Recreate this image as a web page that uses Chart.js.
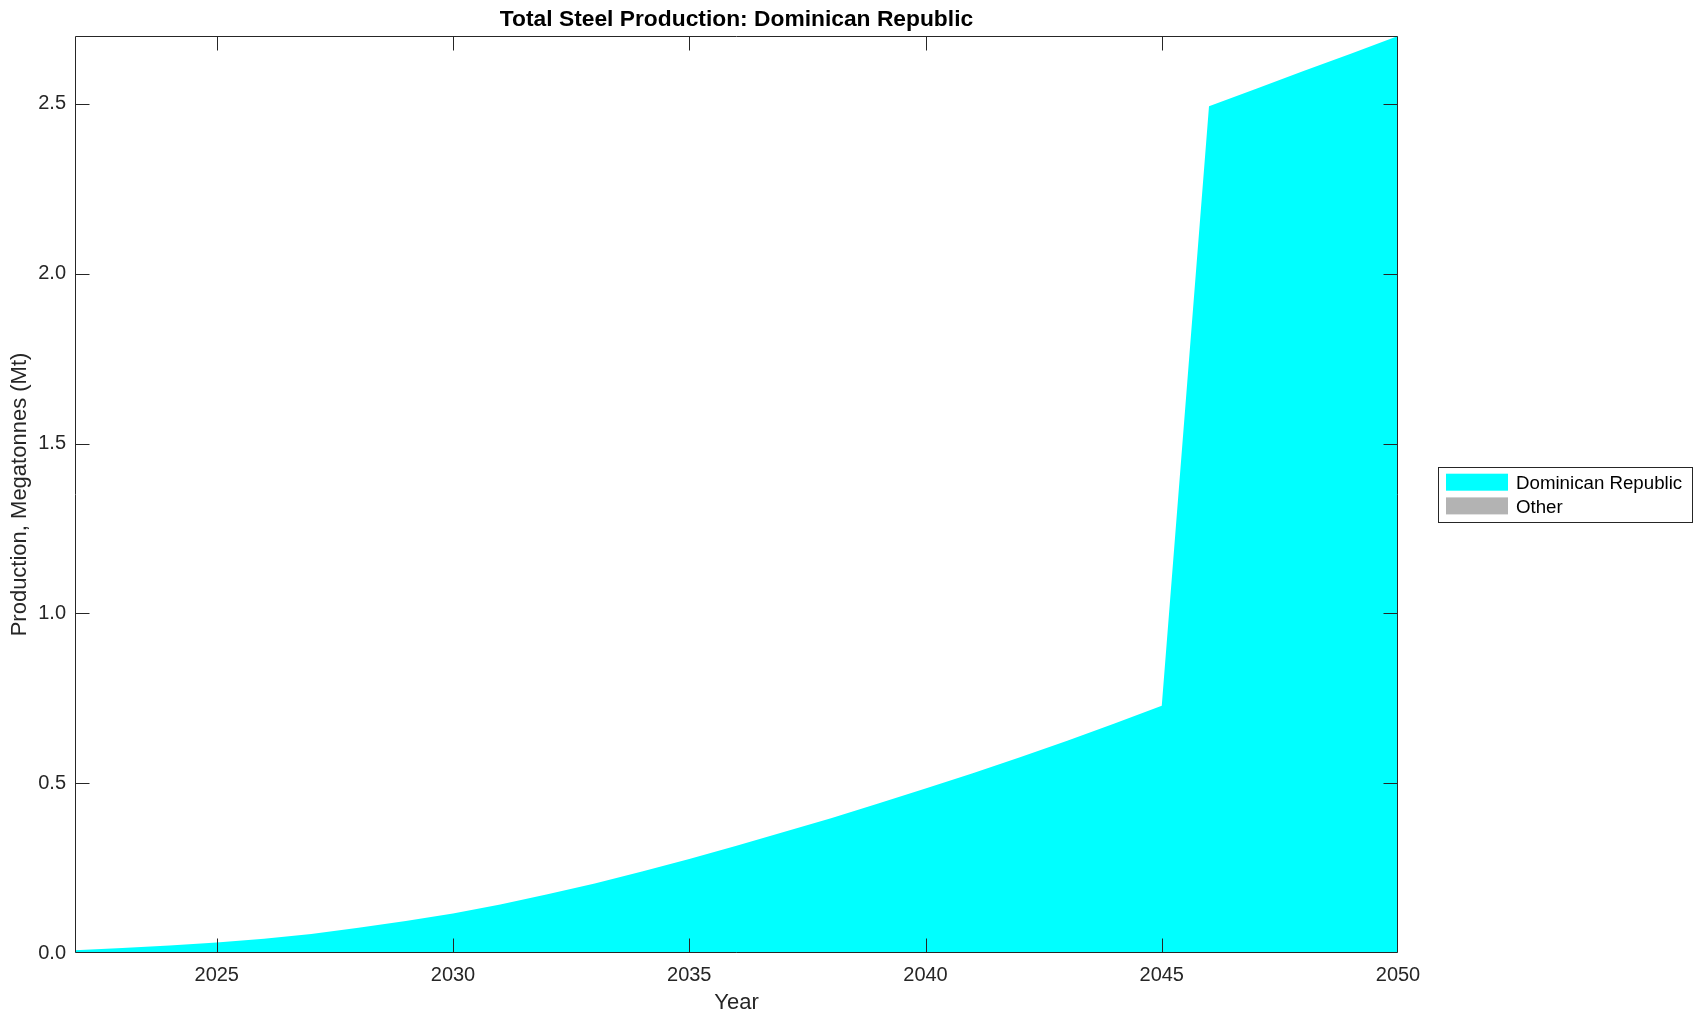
<!DOCTYPE html>
<html>
<head>
<meta charset="utf-8">
<script src="https://cdn.jsdelivr.net/npm/chart.js@4.4.0/dist/chart.umd.min.js"></script>
<style>
html,body{margin:0;padding:0;background:#fff;overflow:hidden}
#wrap{width:1703px;height:1021px;position:relative}
canvas{display:block}
</style>
</head>
<body>
<div id="wrap"><canvas id="c" width="1703" height="1021"></canvas></div>
<script>
// ---- data ----
const years = [2022,2023,2024,2025,2026,2027,2028,2029,2030,2031,2032,2033,2034,2035,2036,2037,2038,2039,2040,2041,2042,2043,2044,2045,2046,2047,2048,2049,2050];
const dominicanRepublic = [0.008,0.015,0.022,0.031,0.042,0.056,0.074,0.094,0.116,0.143,0.173,0.205,0.240,0.277,0.316,0.356,0.397,0.440,0.484,0.529,0.576,0.625,0.676,0.728,2.493,2.545,2.597,2.648,2.700];
const other = [0,0,0,0,0,0,0,0,0,0,0,0,0,0,0,0,0,0,0,0,0,0,0,0,0,0,0,0,0];
const seriesLabels = ['Dominican Republic','Other'];
const seriesColors = ['#00ffff','#b3b3b3'];
const xTicks = [2025,2030,2035,2040,2045,2050];
const yTicks = [0,0.5,1.0,1.5,2.0,2.5];
const titleText = 'Total Steel Production: Dominican Republic';
const xTitle = 'Year';
const yTitle = 'Production, Megatonnes (Mt)';

const FONT = '"Liberation Sans", Arial, Helvetica, sans-serif';
const AXIS = '#262626';
Chart.defaults.font.family = FONT;

const boxPlugin = {
  id: 'boxTicks',
  afterDatasetsDraw(chart) {
    const {ctx, chartArea: a, scales: {x, y}} = chart;
    const L = Math.round(a.left) + 0.5, R = Math.round(a.right) - 0.5;
    const T = Math.round(a.top) + 0.5, B = Math.round(a.bottom) - 0.5;
    const TL = 14;
    ctx.save();
    ctx.strokeStyle = AXIS;
    ctx.lineWidth = 1;
    ctx.beginPath();
    ctx.rect(L, T, R - L, B - T);
    xTicks.forEach(v => {
      const p = Math.round(x.getPixelForValue(v)) + 0.5;
      if (p <= L + 1 || p >= R - 1) return;
      ctx.moveTo(p, B); ctx.lineTo(p, B - TL);
      ctx.moveTo(p, T); ctx.lineTo(p, T + TL);
    });
    yTicks.forEach(v => {
      const p = Math.round(y.getPixelForValue(v)) + 0.5;
      if (p >= B - 1 || p <= T + 1) return;
      ctx.moveTo(L, p); ctx.lineTo(L + TL, p);
      ctx.moveTo(R, p); ctx.lineTo(R - TL, p);
    });
    ctx.stroke();
    ctx.restore();
  },
  afterDraw(chart) {
    const {ctx, chartArea: a} = chart;
    const boxW = 254, boxH = 55;
    const lx = Math.round(a.right + 40) + 0.5;
    const ly = Math.round((a.top + a.bottom) / 2 - boxH / 2) + 0.5;
    ctx.save();
    ctx.fillStyle = '#fff';
    ctx.fillRect(lx, ly, boxW, boxH);
    ctx.strokeStyle = AXIS;
    ctx.lineWidth = 1;
    ctx.strokeRect(lx, ly, boxW, boxH);
    ctx.font = '18.7px ' + FONT;
    ctx.textBaseline = 'alphabetic';
    ctx.textAlign = 'left';
    chart.data.datasets.forEach((ds, i) => {
      const sy = ly - 0.5 + 6.7 + i * 23.7;
      ctx.fillStyle = ds.backgroundColor;
      ctx.fillRect(lx - 0.5 + 8, sy, 62, 17);
      ctx.fillStyle = '#000';
      ctx.fillText(ds.label, lx - 0.5 + 78, sy + 8.5 + 6.8);
    });
    ctx.restore();
  }
};

const ctx = document.getElementById('c').getContext('2d');
new Chart(ctx, {
  type: 'line',
  data: {
    datasets: [
      {
        label: seriesLabels[0],
        data: years.map((yr, i) => ({x: yr, y: dominicanRepublic[i]})),
        backgroundColor: seriesColors[0],
        borderColor: seriesColors[0],
        borderWidth: 0,
        pointRadius: 0,
        fill: 'origin',
        tension: 0
      },
      {
        label: seriesLabels[1],
        data: years.map((yr, i) => ({x: yr, y: other[i]})),
        backgroundColor: seriesColors[1],
        borderColor: seriesColors[1],
        borderWidth: 0,
        pointRadius: 0,
        fill: '-1',
        tension: 0
      }
    ]
  },
  options: {
    responsive: false,
    animation: false,
    devicePixelRatio: 1,
    layout: {padding: {left: 0, right: 305, top: 0, bottom: 0}},
    plugins: {
      legend: {display: false},
      tooltip: {enabled: false},
      title: {
        display: true,
        fullSize: false,
        text: titleText,
        color: '#000',
        font: {family: FONT, size: 22.8, weight: 'bold', lineHeight: 1.2},
        padding: {top: 6.5, bottom: 2.14}
      }
    },
    scales: {
      x: {
        type: 'linear',
        min: years[0],
        max: years[years.length - 1],
        afterBuildTicks: s => { s.ticks = xTicks.map(v => ({value: v})); },
        afterFit: s => { s.height = 68; },
        ticks: {
          color: AXIS,
          font: {family: FONT, size: 20},
          padding: 10,
          maxRotation: 0,
          autoSkip: false,
          callback: v => String(v)
        },
        grid: {display: true, drawOnChartArea: false, drawTicks: false},
        border: {display: false},
        title: {
          display: true,
          text: xTitle,
          color: AXIS,
          font: {family: FONT, size: 22},
          padding: {top: 0, bottom: 5}
        }
      },
      y: {
        type: 'linear',
        stacked: true,
        min: 0,
        max: dominicanRepublic[dominicanRepublic.length - 1],
        afterBuildTicks: s => { s.ticks = yTicks.map(v => ({value: v})); },
        afterFit: s => { s.width = 75; },
        ticks: {
          color: AXIS,
          font: {family: FONT, size: 20},
          padding: 9,
          autoSkip: false,
          callback: v => Number(v).toFixed(1)
        },
        grid: {display: true, drawOnChartArea: false, drawTicks: false},
        border: {display: false},
        title: {
          display: true,
          text: yTitle,
          color: AXIS,
          font: {family: FONT, size: 22},
          padding: {top: 7, bottom: 0}
        }
      }
    }
  },
  plugins: [boxPlugin]
});
</script>
</body>
</html>
